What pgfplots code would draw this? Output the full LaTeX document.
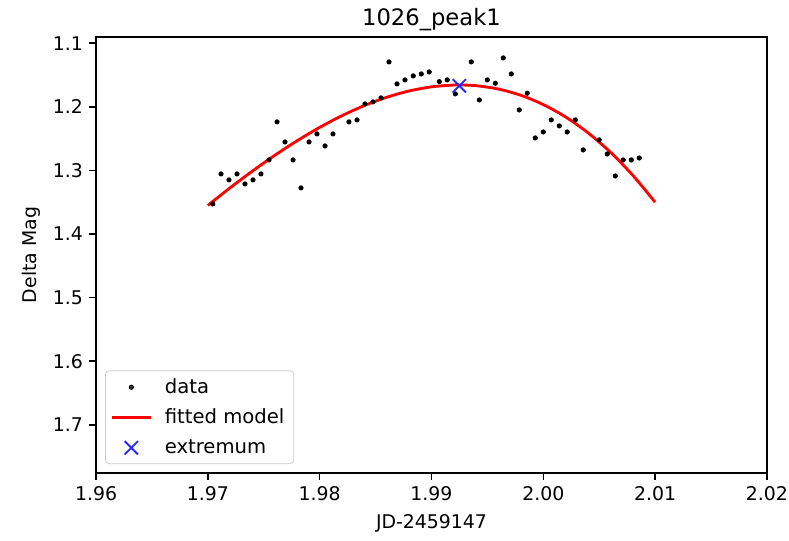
\documentclass[border=0pt]{standalone}
\usepackage{pgfplots}
\pgfplotsset{compat=1.18}
\usepackage{fontspec}
\setmainfont{DejaVu Sans}
\begin{document}
\fontsize{10}{12}\selectfont
\begin{tikzpicture}
\begin{axis}[
  name=main,
  scale only axis, width=355.6pt, height=231.1pt,
  xmin=1.96, xmax=2.02, ymin=1.0902, ymax=1.7757, y dir=reverse,
  xtick={1.96,1.97,1.98,1.99,2.00,2.01,2.02},
  ytick={1.1,1.2,1.3,1.4,1.5,1.6,1.7},
  xticklabel style={/pgf/number format/.cd, fixed, fixed zerofill, precision=2},
  yticklabel style={/pgf/number format/.cd, fixed, fixed zerofill, precision=1},
  /pgf/number format/assume math mode=true,
  ticklabel style={font=\fontsize{10}{12}\selectfont},
  scaled ticks=false,
  tick align=outside, tick pos=left, major tick length=3.5pt,
  major tick style={line width=0.8pt, black},
  axis line style={line width=0.8pt},
  xlabel={JD-2459147},
  xlabel style={at={(axis description cs:0.5,-0.1284)}, anchor=base, font=\fontsize{10}{12}\selectfont},
  ylabel={Delta Mag},
  ylabel style={at={(axis description cs:-0.089,0.5)}, anchor=base, rotate=0, font=\fontsize{10}{12}\selectfont},
  legend image code/.code={\draw[mark repeat=2,mark phase=2,#1] plot coordinates {(0pt,0pt) (10pt,0pt) (20pt,0pt)};},
  legend style={at={(0.0134,0.0206)}, anchor=south west, draw=black!20, rounded corners=2pt,
    fill=white, fill opacity=0.8, text opacity=1, font=\fontsize{10.4}{12}\selectfont,
    inner xsep=3pt, inner ysep=2pt, row sep=2.8pt, nodes={inner sep=2pt},
    /tikz/every odd column/.append style={column sep=5pt}},
  legend cell align=left,
]
\addplot[only marks, mark=*, mark size=1.15pt, black] coordinates {
(1.97044,1.3527) (1.97118,1.3055) (1.97189,1.3149) (1.97261,1.3055) (1.97332,1.3212)
(1.97404,1.3149) (1.97475,1.3055) (1.97547,1.2835) (1.97619,1.2237) (1.97690,1.2552)
(1.97762,1.2835) (1.97833,1.3275) (1.97905,1.2552) (1.97976,1.2426) (1.98048,1.2615)
(1.98119,1.2426) (1.98262,1.2237) (1.98334,1.2206) (1.98405,1.1954) (1.98477,1.1923)
(1.98549,1.1860) (1.98620,1.1294) (1.98692,1.1640) (1.98763,1.1577) (1.98837,1.1514)
(1.98909,1.1483) (1.98980,1.1451) (1.99070,1.1604) (1.99141,1.1577) (1.99213,1.1797)
(1.99356,1.1294) (1.99428,1.1892) (1.99499,1.1577) (1.99571,1.1629) (1.99642,1.1231)
(1.99714,1.1483) (1.99785,1.2049) (1.99857,1.1786) (1.99928,1.2489) (2.00000,1.2395)
(2.00071,1.2206) (2.00143,1.2300) (2.00214,1.2395) (2.00286,1.2206) (2.00357,1.2678)
(2.00500,1.2520) (2.00572,1.2741) (2.00644,1.3087) (2.00715,1.2835) (2.00787,1.2835)
(2.00858,1.2804)
};
\addlegendentry{data}
\addplot[red, line width=1.5pt, smooth, no marks] coordinates {
(1.970,1.3550) (1.972,1.3272) (1.974,1.3009) (1.976,1.2761) (1.978,1.2532)
(1.980,1.2324) (1.982,1.2139) (1.984,1.1980) (1.986,1.1850) (1.988,1.1751)
(1.990,1.1686) (1.992,1.1657) (1.9925,1.1656) (1.994,1.1668) (1.996,1.1721)
(1.998,1.1819) (2.000,1.1965) (2.002,1.2160) (2.004,1.2409) (2.006,1.2713)
(2.008,1.3076) (2.010,1.3500)
};
\addlegendentry{fitted model}
\addplot[only marks, mark=x, mark size=5pt, blue!85!white, mark options={line width=1pt}] coordinates {
(1.99249,1.1670)
};
\addlegendentry{extremum}
\end{axis}
\node[anchor=base, inner sep=0pt, font=\fontsize{12}{14}\selectfont] at ([yshift=6pt]main.north) {1026\_peak1};
\pgfresetboundingbox
\path ([xshift=-50.9pt,yshift=-36pt]main.south west) rectangle ([xshift=11.7pt,yshift=19.6pt]main.north east);
\end{tikzpicture}
\end{document}
